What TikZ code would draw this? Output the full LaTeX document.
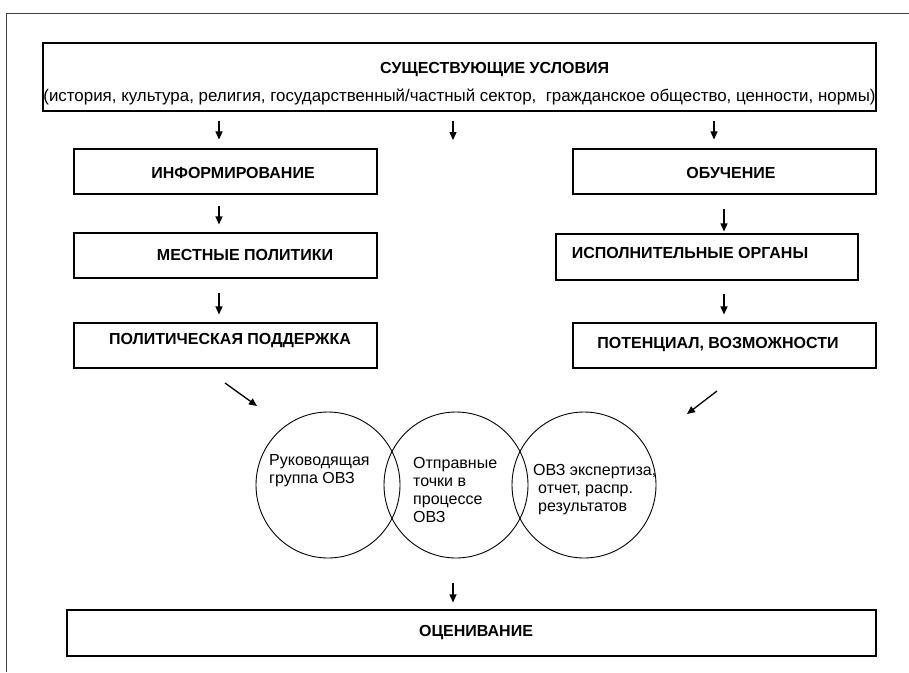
\documentclass[tikz,border=0pt]{standalone}
\usepackage{fontspec}
\setmainfont{Liberation Sans}
\usetikzlibrary{shapes,arrows.meta}
\tikzset{box/.style={rectangle,draw,line width=1.1pt,minimum height=45pt,inner sep=0pt},
  lbl/.style={font=\fontsize{16}{18}\selectfont\bfseries,inner sep=0pt},
  ell/.style={ellipse,draw,line width=0.9pt,minimum width=144pt,minimum height=146pt,inner sep=0pt},
  txt/.style={font=\fontsize{16}{18}\selectfont,align=left,inner sep=0pt,anchor=west},
  arr/.style={->,line width=1.3pt}}

\begin{document}
\begin{tikzpicture}[x=1pt,y=-1pt,>={Stealth[length=8pt,width=7pt,inset=0pt]}]
    \useasboundingbox (0,0) rectangle (909,672);
    \draw[line width=0.8pt,black!75] (6,672) -- (6,13) -- (909,13);

    \node[box,minimum width=833pt,minimum height=68pt] (cond) at (459.5,77) {};
    \node[lbl,anchor=west] (condT) at (380,70) {СУЩЕСТВУЮЩИЕ УСЛОВИЯ};
    \node[txt,anchor=center,font=\fontsize{16.9}{19}\selectfont] (condS) at (459.5,97) {(история, культура, религия, государственный/частный сектор,\ \ гражданское общество, ценности, нормы)};

    \node[box,minimum width=303pt] (info) at (225.5,171.5) {};
    \node[lbl] (infoT) at (233,173) {ИНФОРМИРОВАНИЕ};
    \node[box,minimum width=303pt] (mest) at (225.5,255.5) {};
    \node[lbl] (mestT) at (245,255) {МЕСТНЫЕ ПОЛИТИКИ};
    \node[box,minimum width=303pt] (pol) at (225.5,345.5) {};
    \node[lbl] (polT) at (230,341) {ПОЛИТИЧЕСКАЯ ПОДДЕРЖКА};

    \node[box,minimum width=303pt] (ob) at (724.5,171.5) {};
    \node[lbl] (obT) at (731,173) {ОБУЧЕНИЕ};
    \node[box,minimum width=302pt,minimum height=46pt] (isp) at (707,257) {};
    \node[lbl] (ispT) at (690,253) {ИСПОЛНИТЕЛЬНЫЕ ОРГАНЫ};
    \node[box,minimum width=303pt] (pot) at (724.5,345.5) {};
    \node[lbl] (potT) at (718,345) {ПОТЕНЦИАЛ, ВОЗМОЖНОСТИ};

    \node[ell] (c1) at (328,485) {};
    \node[ell] (c2) at (456,485) {};
    \node[ell] (c3) at (584,485) {};
    \node[txt] (c1T) at (269,471) {Руководящая\\группа ОВЗ};
    \node[txt] (c2T) at (413,490) {Отправные\\точки в\\процессе\\ОВЗ};
    \node[txt] (c3T) at (533,490) {ОВЗ экспертиза,\\\hspace*{5pt}отчет, распр.\\\hspace*{5pt}результатов};

    \node[box,minimum width=809pt,minimum height=46pt] (eval) at (471.5,633) {};
    \node[lbl] (evalT) at (476,632) {ОЦЕНИВАНИЕ};

    \coordinate (colL) at (219,0);
    \coordinate (colR) at (724,0);
    \coordinate (colT) at (714,0);
    \coordinate (colM) at (453,0);
    \coordinate (midE) at (453,140);
    \coordinate (dlA) at (225,383);
    \coordinate (dlB) at (257,406);
    \coordinate (drA) at (717,391);
    \coordinate (drB) at (687,414);

    \draw[arr,shorten <=9pt,shorten >=9pt] (cond.south -| colL) -- (info.north -| colL);
    \draw[arr,shorten <=9pt] (cond.south -| colM) -- (midE);
    \draw[arr,shorten <=9pt,shorten >=9pt] (cond.south -| colT) -- (ob.north -| colT);
    \draw[arr,shorten <=11pt,shorten >=8pt] (info.south -| colL) -- (mest.north -| colL);
    \draw[arr,shorten <=14pt,shorten >=8pt] (mest.south -| colL) -- (pol.north -| colL);
    \draw[arr,shorten <=14pt,shorten >=2pt] (ob.south -| colR) -- (isp.north -| colR);
    \draw[arr,shorten <=13pt,shorten >=8pt] (isp.south -| colR) -- (pot.north -| colR);
    \draw[arr] (dlA) -- (dlB);
    \draw[arr] (drA) -- (drB);
    \draw[arr,shorten <=25pt,shorten >=7pt] (c2.south -| colM) -- (eval.north -| colM);
\end{tikzpicture}
\end{document}
